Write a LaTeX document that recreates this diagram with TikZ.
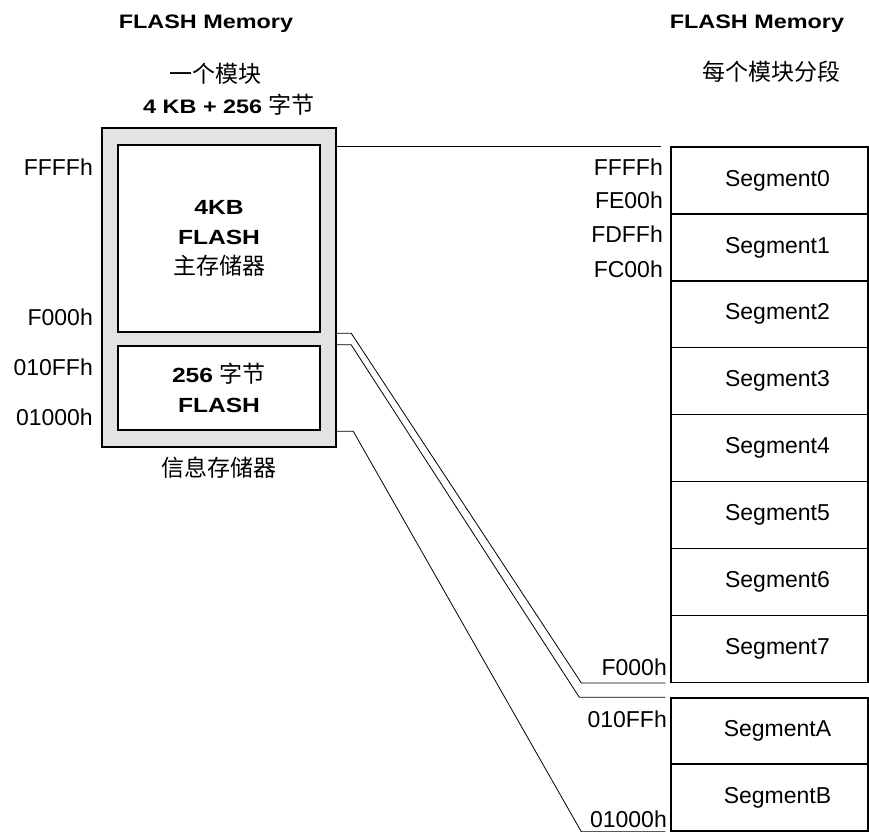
\documentclass[tikz,border=0pt]{standalone}
\usepackage{fontspec}
\setmainfont{Liberation Sans}
\newfontfamily\widesans[FakeStretch=1.2]{Liberation Sans}
\newfontfamily\zhfont{Noto Sans CJK SC}
\newcommand{\zh}[1]{{\zhfont\mdseries\fontsize{23}{26}\selectfont #1}}
\usetikzlibrary{positioning,calc}

\begin{document}
\begin{tikzpicture}[
  x=1pt,y=-1pt,
  outerbox/.style={
    draw,
    line width=2.4pt,
    fill=gray!22,
    minimum width=234pt,
    minimum height=319pt,
    inner sep=0pt
  },
  flashbox/.style={
    draw,
    line width=2.4pt,
    fill=white,
    minimum width=202pt,
    inner sep=0pt,
    align=center,
    font=\widesans\bfseries\fontsize{20.5}{30}\selectfont
  },
  segbox/.style={
    draw,
    line width=1.4pt,
    minimum width=197pt,
    minimum height=66.9pt,
    inner sep=0pt,
    font=\fontsize{23}{26}\selectfont
  },
  addr/.style={anchor=base east,inner sep=0pt,font=\fontsize{23}{26}\selectfont},
  title/.style={inner sep=0pt,font=\widesans\bfseries\fontsize{19.5}{24}\selectfont},
  link/.style={line width=0.8pt}
]
  \useasboundingbox (0,0) rectangle (869,831);

  % titles
  \node[title,anchor=base] (titleleft) at (206,28) {FLASH Memory};
  \node[title] (blocktext) at (215,74) {\zh{一个模块}};
  \node[title,anchor=base] (blocksize) at (229,113) {4 KB + 256 \zh{字节}};
  \node[title,anchor=base] (titleright) at (757,28) {FLASH Memory};
  \node[title] (segtext) at (771,72) {\zh{每个模块分段}};

  % one block
  \node[outerbox] (blk) at (219,287.5) {};
  \node[flashbox,minimum height=187pt] (mainflash) at (219,238.5)
    {4KB\\FLASH\\\zh{主存储器}};
  \node[flashbox,minimum height=84pt] (infoflash) at (219,388)
    {256 \zh{字节}\\FLASH};
  \node[title,below=9pt of blk] (infotext) {\zh{信息存储器}};

  \node[addr] (lFFFF) at (93,175) {FFFFh};
  \node[addr] (lF000) at (93,325) {F000h};
  \node[addr] (l010FF) at (93,375) {010FFh};
  \node[addr] (l01000) at (93,425) {01000h};

  % segments
  \foreach \i in {0,...,7}
    \node[segbox] (seg\i) at (769.5,{180.45+66.9*\i}) {\hspace*{16pt}Segment\i};
  \node[segbox,minimum height=66pt] (segA) at (769.5,731) {\hspace*{16pt}SegmentA};
  \node[segbox,minimum height=67pt] (segB) at (769.5,797.5) {\hspace*{16pt}SegmentB};

  \node[addr] (rFFFF) at (663,175) {FFFFh};
  \node[addr] (rFE00) at (663,208) {FE00h};
  \node[addr] (rFDFF) at (663,242) {FDFFh};
  \node[addr] (rFC00) at (663,277) {FC00h};
  \node[addr] (rF000) at (667,675) {F000h};
  \node[addr] (r010FF) at (667,727) {010FFh};
  \node[addr] (r01000) at (667,827) {01000h};

  % connectors
  \draw[link] (blk.east |- seg0.north) -- ([xshift=-9pt]seg0.north west);
  \draw[link] (blk.east |- mainflash.south) -- ++(14,0)
    -- ([xshift=-89pt]seg7.south west) -- ([xshift=-5pt]seg7.south west);
  \draw[link] (blk.east |- infoflash.north) -- ++(14,0)
    -- ([xshift=-91pt]segA.north west) -- ([xshift=-5pt]segA.north west);
  \draw[link] (blk.east |- infoflash.south) -- ++(16,0)
    -- ([xshift=-89pt]segB.south west) -- ([xshift=-5pt]segB.south west);
\end{tikzpicture}
\end{document}
